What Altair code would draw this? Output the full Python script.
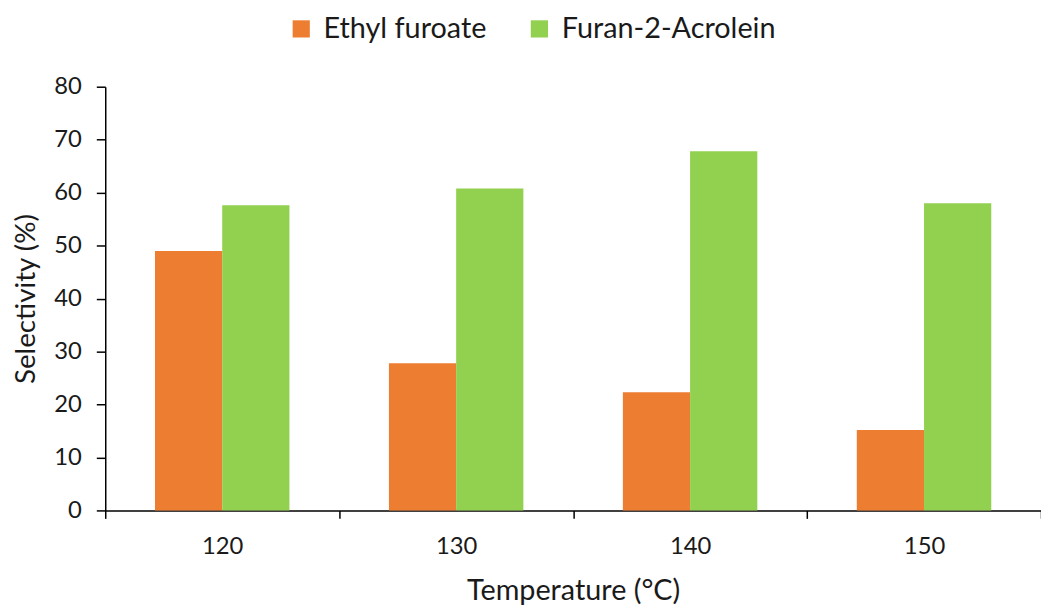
import altair as alt
import pandas as pd

temperatures = ["120", "130", "140", "150"]
series_names = ["Ethyl furoate", "Furan-2-Acrolein"]
ethyl_furoate = [49.0, 27.8, 22.3, 15.2]
furan_acrolein = [57.6, 60.8, 67.8, 58.0]
colors = ["#ED7D31", "#92D050"]

rows = []
for t, e, f in zip(temperatures, ethyl_furoate, furan_acrolein):
    rows.append({"temp": t, "series": series_names[0], "value": e})
    rows.append({"temp": t, "series": series_names[1], "value": f})
df = pd.DataFrame(rows)

FONT = "Lato"
TXT = "#1a1a1a"

chart = alt.Chart(df).mark_bar().encode(
    x=alt.X("temp:N", sort=temperatures,
            scale=alt.Scale(paddingInner=0, paddingOuter=0),
            axis=alt.Axis(title="Temperature (°C)", tickBand="extent", labelAngle=0,
                          labelFontSize=24, titleFontSize=29, labelPadding=16,
                          titlePadding=19, tickSize=8, tickWidth=1.5, domainWidth=1.5,
                          domainColor="black", tickColor="black", labelColor=TXT,
                          titleColor=TXT, labelFont=FONT, titleFont=FONT,
                          titleFontWeight="normal")),
    xOffset=alt.XOffset("series:N", sort=series_names,
                        scale=alt.Scale(domain=series_names, paddingInner=0, paddingOuter=0.74)),
    y=alt.Y("value:Q", scale=alt.Scale(domain=[0, 80]),
            axis=alt.Axis(title="Selectivity (%)", values=list(range(0, 81, 10)),
                          labelFontSize=24, titleFontSize=28, labelPadding=15,
                          titlePadding=13, tickSize=9, tickWidth=1.5, domainWidth=1.5,
                          domainColor="black", tickColor="black", labelColor=TXT,
                          titleColor=TXT, labelFont=FONT, titleFont=FONT,
                          titleFontWeight="normal", grid=False)),
    color=alt.Color("series:N", sort=series_names,
                    scale=alt.Scale(domain=series_names, range=colors),
                    legend=alt.Legend(title=None, orient="none", direction="horizontal",
                                      legendX=183, legendY=-73, symbolType="square",
                                      symbolSize=300, symbolStrokeWidth=0,
                                      labelFontSize=29, labelFont=FONT, labelColor=TXT,
                                      labelLimit=400, columnPadding=38, labelOffset=8)),
).properties(
    width=943, height=427,
    padding={"left": 98, "top": 77, "right": 0, "bottom": 95},
    autosize=alt.AutoSizeParams(type="none"),
).configure_view(stroke=None)

chart.save("out.html", embed_options={"renderer": "svg", "actions": False})
